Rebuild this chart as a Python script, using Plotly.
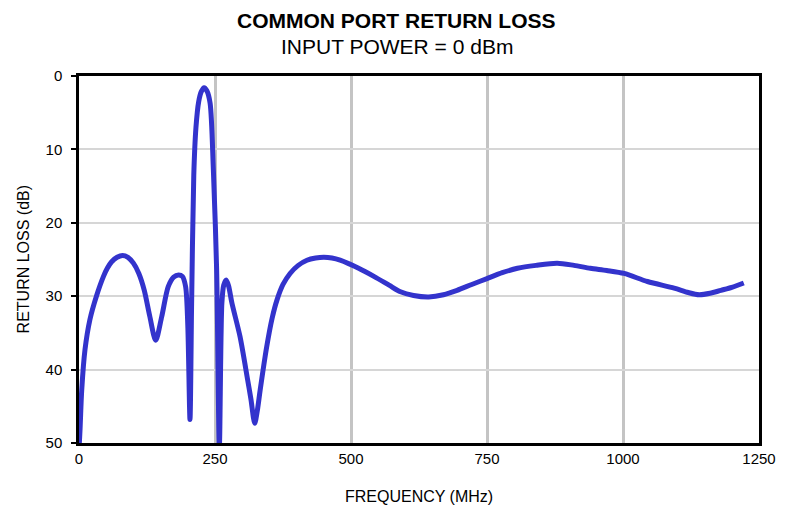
import plotly.graph_objects as go

freq_mhz = [0, 2, 5, 11, 20, 32, 45, 52, 60, 70, 80, 90, 100, 110, 120, 130, 141, 152, 164, 174,
            183, 190, 196, 200, 204, 207, 211, 215, 220, 225, 230, 235, 241, 247, 253, 258, 262.6,
            266, 270.6, 275, 281, 296, 310, 316, 323, 328, 333, 345, 355, 364, 375, 388, 403, 419,
            435, 450, 465, 480, 514, 542, 570, 591, 615, 643, 670, 695, 722, 750, 778, 806, 840,
            879, 910, 940, 970, 1002, 1045, 1094, 1120, 1140, 1160, 1180, 1200, 1222]
return_loss_db = [51, 48, 42.8, 37.3, 33.2, 30, 27.3, 26.2, 25.3, 24.7, 24.45, 24.7, 25.5, 26.9,
                  29.2, 32.7, 36, 32.8, 28.7, 27.4, 27.1, 27.3, 28.7, 34, 46.8, 31, 13.5, 7, 3.5,
                  2.1, 1.6, 2.0, 3.7, 12.8, 26.4, 50.5, 31, 28.5, 27.8, 28.6, 30.9, 35.5, 41.4, 44,
                  47.3, 45.5, 42.8, 36.9, 33, 30.5, 28.4, 26.9, 25.8, 25.1, 24.8, 24.7, 24.8, 25.1,
                  26.2, 27.3, 28.5, 29.4, 29.9, 30.1, 29.8, 29.2, 28.4, 27.6, 26.8, 26.2, 25.8,
                  25.5, 25.8, 26.2, 26.5, 26.9, 28.0, 28.9, 29.5, 29.8, 29.6, 29.2, 28.8, 28.2]

x_ticks = [0, 250, 500, 750, 1000, 1250]
y_ticks = [0, 10, 20, 30, 40, 50]

fig = go.Figure()
fig.add_trace(go.Scatter(
    x=freq_mhz, y=return_loss_db, mode="lines",
    line=dict(color="#3333cc", width=5, shape="spline", smoothing=0.8),
    showlegend=False, hoverinfo="skip",
))

font_family = "Liberation Sans, Arial, sans-serif"
fig.update_layout(
    width=795, height=508,
    margin=dict(l=79, r=36, t=76, b=65),
    paper_bgcolor="white", plot_bgcolor="white",
    font=dict(family=font_family, color="black", size=15),
    annotations=[
        dict(text="<b>COMMON PORT RETURN LOSS</b>", xref="paper", yref="paper",
             x=0.467, y=1.150, xanchor="center", yanchor="middle", showarrow=False,
             font=dict(size=21, family=font_family, color="black")),
        dict(text="INPUT POWER = 0 dBm", xref="paper", yref="paper",
             x=0.467, y=1.080, xanchor="center", yanchor="middle", showarrow=False,
             font=dict(size=21, family=font_family, color="black")),
        dict(text="FREQUENCY (MHz)", xref="paper", yref="paper",
             x=0.5, y=-0.147, xanchor="center", yanchor="middle", showarrow=False,
             font=dict(size=16, family=font_family, color="black")),
        dict(text="RETURN LOSS (dB)", xref="paper", yref="paper", textangle=-90,
             x=-0.081, y=0.5, xanchor="center", yanchor="middle", showarrow=False,
             font=dict(size=16, family=font_family, color="black")),
    ],
)
fig.update_xaxes(
    range=[0, 1250], tickvals=x_ticks, ticktext=[str(v) for v in x_ticks],
    showgrid=True, gridcolor="#c4c4c4", gridwidth=3,
    showline=True, linecolor="black", linewidth=2.5, mirror=True,
    ticks="", zeroline=False, tickfont=dict(size=15), automargin=False,
)
fig.update_yaxes(
    range=[50, 0], tickvals=y_ticks,
    showgrid=True, gridcolor="#d6d6d6", gridwidth=1.5,
    showline=True, linecolor="black", linewidth=2.5, mirror=True,
    ticks="outside", ticklen=5, tickwidth=2, tickcolor="black",
    zeroline=False, tickfont=dict(size=15), automargin=False, ticklabelstandoff=6,
)

fig.write_html("out.html", config={"displayModeBar": False},
               post_script="document.body.style.margin='0';document.body.style.overflow='hidden';")
